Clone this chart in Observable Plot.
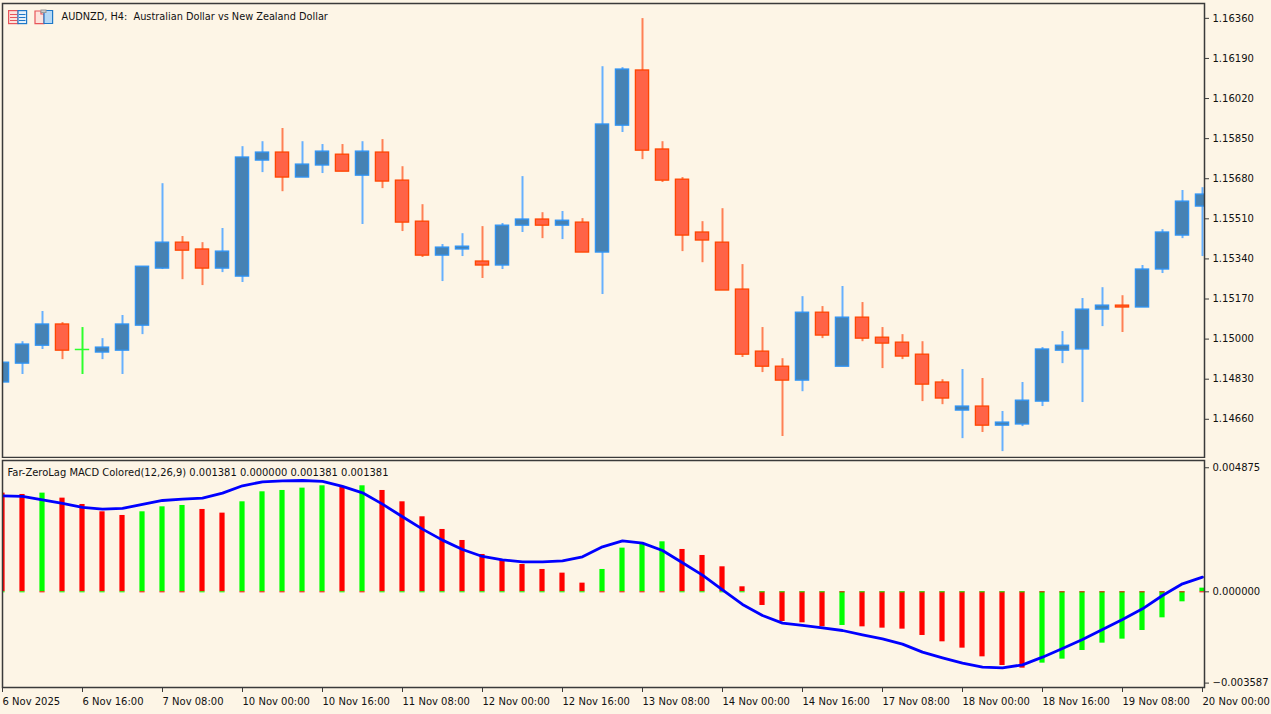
<!DOCTYPE html>
<html>
<head>
<meta charset="utf-8">
<script src="https://cdn.jsdelivr.net/npm/d3@7"></script>
<script src="https://cdn.jsdelivr.net/npm/@observablehq/plot@0.6"></script>
<style>
html,body{margin:0;padding:0;background:#fdf5e6;overflow:hidden}
#chart{position:relative;width:1271px;height:714px}
#chart svg{display:block}
#icons{position:absolute;left:0;top:0}
</style>
</head>
<body>
<div id="chart"></div>
<script>
const high = [1.14900,1.14989,1.15117,1.15070,1.15049,1.15002,1.15100,1.15307,1.15659,1.15435,1.15409,1.15469,1.15816,1.15837,1.15893,1.15837,1.15825,1.15825,1.15837,1.15846,1.15731,1.15570,1.15401,1.15447,1.15477,1.15490,1.15689,1.15536,1.15541,1.15511,1.16155,1.16151,1.16359,1.15837,1.15685,1.15498,1.15553,1.15316,1.15049,1.14917,1.15180,1.15138,1.15223,1.15155,1.15049,1.15019,1.14989,1.14828,1.14871,1.14833,1.14693,1.14816,1.14964,1.15032,1.15172,1.15218,1.15184,1.15312,1.15464,1.15630,1.15642];
const low = [1.14816,1.14850,1.14956,1.14913,1.14850,1.14913,1.14850,1.15019,1.15295,1.15252,1.15227,1.15282,1.15240,1.15706,1.15625,1.15685,1.15702,1.15710,1.15486,1.15638,1.15456,1.15346,1.15244,1.15350,1.15257,1.15295,1.15452,1.15426,1.15422,1.15367,1.15189,1.15876,1.15761,1.15664,1.15371,1.15324,1.15206,1.14922,1.14858,1.14587,1.14777,1.15002,1.14883,1.14989,1.14875,1.14913,1.14735,1.14722,1.14578,1.14604,1.14523,1.14629,1.14714,1.14896,1.14731,1.15053,1.15028,1.15134,1.15278,1.15426,1.15350];
const open = [1.14816,1.14896,1.14972,1.15062,1.14956,1.14943,1.14951,1.15057,1.15299,1.15409,1.15380,1.15299,1.15265,1.15757,1.15791,1.15685,1.15736,1.15782,1.15693,1.15791,1.15672,1.15498,1.15354,1.15380,1.15329,1.15312,1.15481,1.15507,1.15481,1.15494,1.15367,1.15905,1.16139,1.15804,1.15676,1.15452,1.15409,1.15210,1.14947,1.14883,1.14824,1.15112,1.14883,1.15091,1.15006,1.14985,1.14934,1.14816,1.14697,1.14714,1.14633,1.14638,1.14735,1.14951,1.14956,1.15125,1.15142,1.15134,1.15295,1.15439,1.15562];
const close = [1.14900,1.14977,1.15062,1.14951,1.14956,1.14964,1.15062,1.15307,1.15409,1.15375,1.15299,1.15371,1.15770,1.15791,1.15685,1.15740,1.15795,1.15710,1.15795,1.15668,1.15494,1.15354,1.15388,1.15392,1.15312,1.15481,1.15507,1.15481,1.15502,1.15367,1.15910,1.16143,1.15799,1.15672,1.15439,1.15418,1.15206,1.14934,1.14883,1.14824,1.15112,1.15015,1.15091,1.15002,1.14981,1.14926,1.14807,1.14748,1.14714,1.14633,1.14646,1.14739,1.14956,1.14972,1.15125,1.15142,1.15134,1.15295,1.15452,1.15583,1.15613];
const histogram = [0.003878,0.003825,0.003878,0.003681,0.003432,0.003144,0.003000,0.003144,0.003340,0.003393,0.003236,0.003092,0.003537,0.003930,0.003982,0.004074,0.004166,0.004113,0.004166,0.003982,0.003537,0.002948,0.002450,0.002017,0.001467,0.001231,0.001074,0.000878,0.000734,0.000341,0.000878,0.001716,0.001860,0.001965,0.001664,0.001428,0.000983,0.000197,-0.000537,-0.001166,-0.001218,-0.001376,-0.001323,-0.001376,-0.001428,-0.001467,-0.001716,-0.001965,-0.002214,-0.002555,-0.002895,-0.003000,-0.002803,-0.002646,-0.002306,-0.002017,-0.001860,-0.001520,-0.001022,-0.000393,0.000144];
const signal = [0.003773,0.003747,0.003616,0.003472,0.003314,0.003249,0.003275,0.003432,0.003589,0.003642,0.003681,0.003878,0.004166,0.004323,0.004362,0.004375,0.004336,0.004140,0.003891,0.003445,0.002948,0.002463,0.002031,0.001664,0.001389,0.001258,0.001179,0.001179,0.001218,0.001376,0.001769,0.002004,0.001913,0.001624,0.001140,0.000655,0.000079,-0.000498,-0.000930,-0.001231,-0.001323,-0.001415,-0.001520,-0.001690,-0.001847,-0.002057,-0.002371,-0.002594,-0.002803,-0.002961,-0.002987,-0.002869,-0.002568,-0.002227,-0.001873,-0.001480,-0.001087,-0.000668,-0.000144,0.000314,0.000576];
const timeLabels = ["6 Nov 2025","6 Nov 16:00","7 Nov 08:00","10 Nov 00:00","10 Nov 16:00","11 Nov 08:00","12 Nov 00:00","12 Nov 16:00","13 Nov 08:00","14 Nov 00:00","14 Nov 16:00","17 Nov 08:00","18 Nov 00:00","18 Nov 16:00","19 Nov 08:00","20 Nov 00:00"];
const priceTicks = [1.14660,1.14830,1.15000,1.15170,1.15340,1.15510,1.15680,1.15850,1.16020,1.16190,1.16360];
const macdTicks = [0.004875,0,-0.003587];
const titleText = "AUDNZD, H4:  Australian Dollar vs New Zealand Dollar";
const macdText = "Far-ZeroLag MACD Colored(12,26,9) 0.001381 0.000000 0.001381 0.001381";

const FONT = '"DejaVu Sans", sans-serif';
const FS = 10;
const INK = "#111";
const EDGE = "#3a3a3a";
const bars = d3.range(high.length);
const isUp = i => close[i] > open[i];
const isDown = i => close[i] < open[i];
const candles = bars.filter(i => open[i] !== close[i]);
const dojis = bars.filter(i => open[i] === close[i]);
const wickColor = i => isUp(i) ? "#66b0ff" : isDown(i) ? "#ff8055" : "#2dff2d";
const rising = i => i > 0 && histogram[i] > histogram[i - 1];
const xDomain = [0, 60.1];
const common = {width: 1271, marginLeft: 2, marginRight: 67, style: {background: "none", fontFamily: FONT, fontSize: FS + "px", color: INK}};

const main = Plot.plot({
  ...common,
  height: 458, marginTop: 3, marginBottom: 1,
  x: {domain: xDomain, axis: null},
  y: {domain: [1.14498, 1.16423], axis: null},
  marks: [
    Plot.ruleX(bars, {x: i => i, y1: i => low[i], y2: i => high[i], stroke: wickColor, strokeWidth: 2, clip: "frame"}),
    Plot.rect(candles, {x1: i => i - 0.33, x2: i => i + 0.33, y1: i => open[i], y2: i => close[i],
      fill: i => isUp(i) ? "#4682b4" : "#ff6347", stroke: i => isUp(i) ? "#2f94f5" : "#ff4500", strokeWidth: 1.3, clip: "frame"}),
    Plot.ruleY(dojis, {x1: i => i - 0.36, x2: i => i + 0.36, y: i => open[i], stroke: "#2dff2d", strokeWidth: 1.5, clip: "frame"}),
    Plot.frame({stroke: EDGE, strokeWidth: 1.5}),
    Plot.axisY(priceTicks, {anchor: "right", tickSize: 4, tickPadding: 4, textAnchor: "start", label: null, tickFormat: d3.format(".5f"), stroke: EDGE, fill: INK}),
    Plot.text([titleText], {frameAnchor: "top-left", dx: 59, dy: 10, fill: INK, fontSize: 9.75, textAnchor: "start", lineAnchor: "top"})
  ]
});

const sub = Plot.plot({
  ...common,
  height: 256, marginTop: 2, marginBottom: 27,
  x: {domain: xDomain, axis: null},
  y: {domain: [-0.00376, 0.00516], axis: null},
  marks: [
    Plot.rect(bars, {x1: i => i - 0.13, x2: i => i + 0.13, y1: 0, y2: i => histogram[i], fill: i => rising(i) ? "#00ff00" : "#ff0000", clip: "frame"}),
    Plot.ruleY(bars, {x1: i => i - 0.13, x2: i => i + 0.13, y: 0, stroke: i => rising(i) ? "#ff0000" : "#00ff00", strokeWidth: 1, clip: "frame"}),
    Plot.line(bars, {x: i => i, y: i => signal[i], stroke: "#0000ff", strokeWidth: 2.8, clip: "frame"}),
    Plot.frame({stroke: EDGE, strokeWidth: 1.5}),
    Plot.axisY(macdTicks, {anchor: "right", tickSize: 4, tickPadding: 4, textAnchor: "start", label: null, tickFormat: d3.format(".6f"), stroke: EDGE, fill: INK}),
    Plot.axisX(timeLabels.map((_, k) => k * 4), {anchor: "bottom", tickSize: 5, tickPadding: 5, textAnchor: "start", label: null, tickFormat: i => timeLabels[i / 4], stroke: EDGE, fill: INK}),
    Plot.text([macdText], {frameAnchor: "top-left", dx: 5, dy: 8, fill: INK, fontSize: 9.95, textAnchor: "start", lineAnchor: "top"})
  ]
});

const chart = document.getElementById("chart");
chart.append(main, sub);

const icons = `<svg id="icons" width="60" height="30" xmlns="http://www.w3.org/2000/svg" fill="none" stroke-width="1.2">
<g stroke="#e8555a"><rect x="8.6" y="10.6" width="9.4" height="13" fill="#fde3dc"/><path d="M10 14.5h7M10 17.5h7M10 20.5h7"/></g>
<g stroke="#1e78c8"><rect x="18" y="10.6" width="8.6" height="13" fill="#e4f0fa"/><path d="M19 14.5h6.5M19 17.5h6.5M19 20.5h6.5"/></g>
<g stroke="#e8555a"><path d="M35 11h6v3h3v9.6h-9z" fill="#fde3dc"/></g>
<g stroke="#1e78c8"><path d="M44 15v-4.5h8.6v13h-8.6z" fill="#b5d8f5"/></g>
<rect x="41" y="10" width="5" height="2.5" fill="#ccc" stroke="#999" stroke-width="1"/>
</svg>`;
chart.insertAdjacentHTML("beforeend", icons);
</script>
</body>
</html>
